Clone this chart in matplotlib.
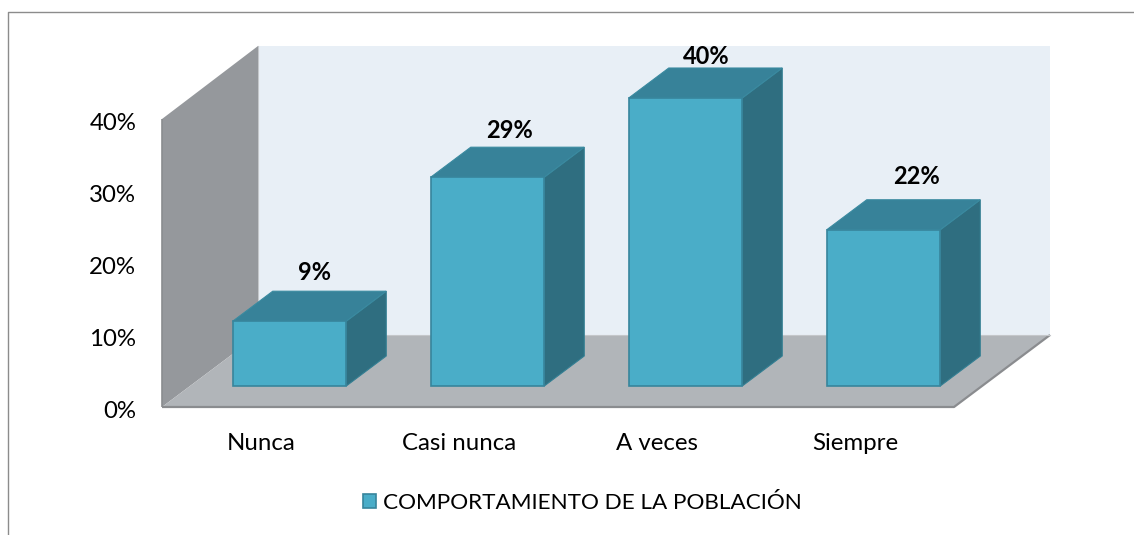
import matplotlib
matplotlib.use("Agg")
import matplotlib.pyplot as plt
from matplotlib.patches import Polygon, Patch
from matplotlib.lines import Line2D
from matplotlib.transforms import ScaledTranslation

categories = ["Nunca", "Casi nunca", "A veces", "Siempre"]
values = [9.0, 29.0, 40.0, 21.7]
value_labels = ["9%", "29%", "40%", "22%"]
y_ticks = [0, 10, 20, 30, 40]
y_tick_labels = ["0%", "10%", "20%", "30%", "40%"]
legend_label = "COMPORTAMIENTO DE LA POBLACIÓN"

W, H = 1134, 535
plt.rcParams["font.family"] = ["Lato", "DejaVu Sans"]
fig = plt.figure(figsize=(W / 100, H / 100), dpi=100, facecolor="white")
ax = fig.add_axes([162 / W, (H - 407) / H, 792 / W, 288 / H])
ax.set_xlim(0, 4)
ax.set_ylim(0, 40)
ax.set_facecolor("none")
for s in ax.spines.values():
    s.set_visible(False)

# depth offsets in data units
PX_X, PX_Y = 1 / 198, 1 / 7.2
wall_dx, wall_dy = 96 * PX_X, 72 * PX_Y
wall_top = y_ticks[-1] + 73 * PX_Y
bar_shift_x, bar_shift_y = 28.5 * PX_X, 21 * PX_Y
bar_dx, bar_dy = 40 * PX_X, 30 * PX_Y
bar_w = 113.5 * PX_X
# label nudges in pixels, relative to the back-top-right corner of each bar
label_nudge_x = [-72, -75, -76, -64]
label_rise = [19, 17, 11, 23]

def poly(pts, fc, ec="none", lw=0.0, z=1):
    ax.add_patch(Polygon(pts, closed=True, facecolor=fc, edgecolor=ec, linewidth=lw,
                         clip_on=False, zorder=z, joinstyle="miter"))

ytop = y_ticks[-1]
poly([(wall_dx, wall_dy), (4 + wall_dx, wall_dy), (4 + wall_dx, wall_top), (wall_dx, wall_top)], "#E8EFF6", z=1)
poly([(0, 0), (wall_dx, wall_dy), (wall_dx, wall_top), (0, ytop)], "#95989C", z=2)
poly([(0, 0), (4, 0), (4 + wall_dx, wall_dy), (wall_dx, wall_dy)], "#B1B5B9", z=2)
ax.plot([0, 0], [0, ytop], color="#8A8C8F", lw=1.2, clip_on=False, zorder=3, solid_capstyle="butt")
ax.plot([0, 4, 4 + wall_dx], [0, 0, wall_dy], color="#8A8C8F", lw=1.6, clip_on=False, zorder=3, solid_capstyle="butt")
ax.plot([wall_dx, 4 + wall_dx], [wall_dy, wall_dy], color="#C4C7CA", lw=0.8, clip_on=False, zorder=3)
ax.plot([wall_dx, wall_dx], [wall_dy, wall_top], color="#C4C7CA", lw=0.8, clip_on=False, zorder=1.5)

# bars
for i, v in enumerate(values):
    x0 = i + 0.5 + bar_shift_x - bar_w / 2
    x1 = x0 + bar_w
    y0 = bar_shift_y
    y1 = y0 + v
    poly([(x1, y0), (x1 + bar_dx, y0 + bar_dy), (x1 + bar_dx, y1 + bar_dy), (x1, y1)],
         "#2F6E80", "#347F93", 0.8, z=4)
    poly([(x0, y1), (x1, y1), (x1 + bar_dx, y1 + bar_dy), (x0 + bar_dx, y1 + bar_dy)],
         "#378299", "#3A8AA0", 0.8, z=4)
    poly([(x0, y0), (x1, y0), (x1, y1), (x0, y1)], "#4AADC8", "#37859C", 1.2, z=5)
    ax.text(x1 + bar_dx + label_nudge_x[i] * PX_X, y1 + bar_dy + label_rise[i] * PX_Y, value_labels[i],
            ha="center", va="center", fontsize=17, fontweight="bold", color="black", zorder=6, clip_on=False)

ax.set_xticks([i + 0.5 for i in range(len(categories))])
ax.set_xticklabels(categories, fontsize=17.3, color="black")
ax.set_yticks(y_ticks)
ax.set_yticklabels(y_tick_labels, fontsize=17.3, color="black", va="center")
ax.tick_params(axis="x", length=0, pad=18.5)
ax.tick_params(axis="y", length=0, pad=18.5)
for lab in ax.get_yticklabels():
    lab.set_transform(lab.get_transform() + ScaledTranslation(0, -4 / 100, fig.dpi_scale_trans))

handle = Patch(facecolor="#4AADC8", edgecolor="#37859C", linewidth=1.2)
fig.legend([handle], [legend_label], loc="center", bbox_to_anchor=(582 / W, 1 - 503 / H),
           frameon=False, fontsize=16.2, handlelength=0.6, handleheight=0.6, handletextpad=0.3,
           labelcolor="black")

# chart frame
fig.add_artist(Line2D([7.5 / W, 7.5 / W, 1], [0, 1 - 11.5 / H, 1 - 11.5 / H], color="#8C8C8C", lw=1.0,
                      transform=fig.transFigure))

fig.savefig("out.png", dpi=100, facecolor="white")
